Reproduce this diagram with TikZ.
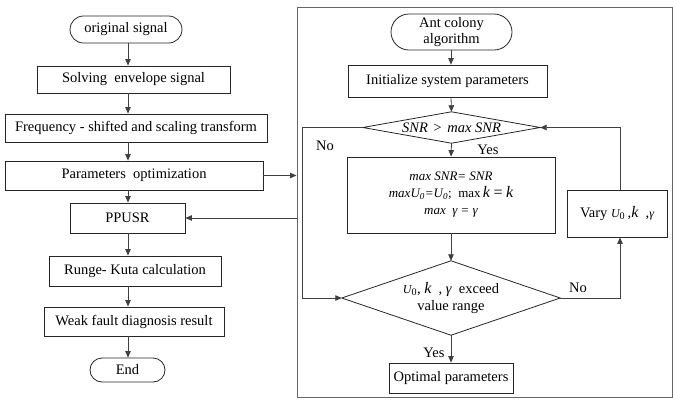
\documentclass[tikz,border=0pt]{standalone}
\usepackage{fontspec}
\setmainfont{Liberation Serif}
\usetikzlibrary{shapes.geometric,shapes.misc,arrows.meta}
\begin{document}
\begin{tikzpicture}[x=1pt,y=-1pt,
  every node/.style={font=\fontsize{14.5}{17}\selectfont, inner sep=0pt},
  stepbox/.style={draw=black!85, line width=0.8pt, fill=white, align=center},
  term/.style={draw=black!85, line width=0.8pt, rounded rectangle, align=center},
  decide/.style={rectangle, align=center},
  dshape/.style={draw=black!85, line width=0.8pt},
  frm/.style={draw=black!60, line width=1pt},
  arr/.style={draw=black!75, line width=0.8pt, -{Triangle[length=6.5pt,width=5.5pt]}},
  ln/.style={draw=black!75, line width=0.8pt},
  lbl/.style={font=\fontsize{14.5}{17}\selectfont}]
\useasboundingbox (0,0) rectangle (673,400);
% left column
\coordinate (colx) at (128,0);
\node[term, minimum width=112, minimum height=27] (orig) at (126,29.5) {original signal};
\node[stepbox, minimum width=193, minimum height=27] (solv) at (133.5,79.5) {Solving\ \ envelope signal};
\node[stepbox, minimum width=262, minimum height=28] (freq) at (136,128) {Frequency - shifted and scaling transform};
\node[stepbox, minimum width=258, minimum height=29] (param) at (134,175.5) {Parameters\ \ optimization};
\node[stepbox, minimum width=115, minimum height=30] (ppusr) at (127.5,218) {PPUSR};
\node[stepbox, minimum width=172, minimum height=30] (runge) at (135,271) {Runge- Kuta calculation};
\node[stepbox, minimum width=180, minimum height=29] (weak) at (134,321.5) {Weak fault diagnosis result};
\node[term, minimum width=75, minimum height=24] (endn) at (127.5,370) {End};
\draw[arr] (orig.south -| colx) -- (solv.north -| colx);
\draw[arr] (solv.south -| colx) -- (freq.north -| colx);
\draw[arr] (freq.south -| colx) -- (param.north -| colx);
\draw[arr] (param.south -| colx) -- (ppusr.north -| colx);
\draw[arr] (ppusr.south -| colx) -- (runge.north -| colx);
\draw[arr] (runge.south -| colx) -- (weak.north -| colx);
\draw[arr] (weak.south -| colx) -- (endn.north -| colx);
% frame
\node[frm, minimum width=375, minimum height=390] (frame) at (484.5,202.5) {};
\draw[arr] (param.east) -- (param.east -| frame.west);
\draw[arr] (ppusr.east -| frame.west) -- (ppusr.east);
% right column
\coordinate (rcol) at (451,0);
\node[term, minimum width=121, minimum height=36] (ant) at (451.5,32) {Ant colony\\[-1pt]algorithm};
\node[stepbox, minimum width=199, minimum height=32] (init) at (447.5,81) {Initialize system parameters};
\node[decide, minimum width=177, minimum height=31] (d1) at (451.5,127.5) {\itshape SNR\,\,>\,\,max SNR};
\draw[dshape] (d1.north) -- (d1.east) -- (d1.south) -- (d1.west) -- cycle;
\node[stepbox, minimum width=208, minimum height=76] (upd) at (451,195)
  {\fontsize{13}{19}\selectfont\itshape max SNR= SNR\\
   \fontsize{13}{19}\selectfont\itshape max\textit{U}\textsubscript{0}=\textit{U}\textsubscript{0}\upshape;\ \ max\,\fontsize{16}{19}\selectfont\itshape k\,=\,k\\
   \fontsize{13}{17}\selectfont\itshape max\ \ γ = γ};
\node[decide, minimum width=218, minimum height=74] (d2) at (451,298)
  {{\fontsize{12}{14}\selectfont\itshape U}\textsubscript{0}, {\fontsize{16}{17}\selectfont\itshape k}\ \ , {\itshape γ}\ \ exceed\\value range};
\draw[dshape] (d2.north) -- (d2.east) -- (d2.south) -- (d2.west) -- cycle;
\node[stepbox, minimum width=100, minimum height=47] (vary) at (617,213.5)
  {Vary {\fontsize{12}{14}\selectfont\itshape U}\textsubscript{0}\,,{\fontsize{16}{17}\selectfont\itshape k}\ \ ,{\fontsize{12}{14}\selectfont\itshape γ}};
\node[stepbox, minimum width=124, minimum height=30] (opt) at (451,378) {Optimal parameters};
\draw[arr] (ant.south -| rcol) -- (init.north -| rcol);
\draw[arr] (init.south -| rcol) -- (d1.north);
\draw[arr] (d1.south) -- (upd.north -| rcol);
\draw[arr] (upd.south -| rcol) -- (d2.north);
\draw[arr] (d2.south) -- (opt.north -| rcol);
\coordinate (nol) at (302,127.5);
\draw[arr] (d1.west) -- (nol) |- (d2.west);
\coordinate (nor) at (620,298);
\draw[arr] (d2.east) -- (nor) -- (nor |- vary.south);
\draw[arr] (nor |- vary.north) |- (d1.east);
% labels
\node[lbl] (lno1) at (325,146) {No};
\node[lbl] (lyes1) at (488,150) {Yes};
\node[lbl] (lno2) at (578,288) {No};
\node[lbl] (lyes2) at (434,353) {Yes};
\end{tikzpicture}
\end{document}
